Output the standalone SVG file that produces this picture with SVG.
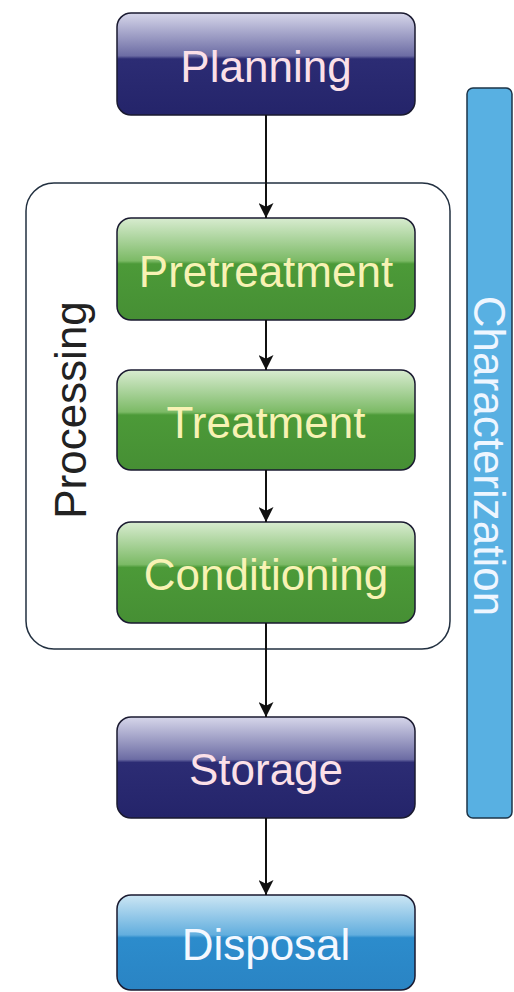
<svg xmlns="http://www.w3.org/2000/svg" width="514" height="992" viewBox="0 0 514 992">
<defs>
<linearGradient id="gNavy" x1="0" y1="0" x2="0" y2="1">
<stop offset="0" stop-color="#d6d6ea"/>
<stop offset="0.42" stop-color="#6c6ca4"/>
<stop offset="0.45" stop-color="#2c2c74"/>
<stop offset="1" stop-color="#24246a"/>
</linearGradient>
<linearGradient id="gGreen" x1="0" y1="0" x2="0" y2="1">
<stop offset="0" stop-color="#d8ecd0"/>
<stop offset="0.42" stop-color="#7cba66"/>
<stop offset="0.45" stop-color="#4c9a38"/>
<stop offset="1" stop-color="#468f34"/>
</linearGradient>
<linearGradient id="gBlue" x1="0" y1="0" x2="0" y2="1">
<stop offset="0" stop-color="#cce6f4"/>
<stop offset="0.42" stop-color="#62aede"/>
<stop offset="0.45" stop-color="#2c8ccc"/>
<stop offset="1" stop-color="#2a84c4"/>
</linearGradient>
<marker id="arrow" viewBox="0 0 16 16" refX="16" refY="8" markerWidth="15" markerHeight="15" markerUnits="userSpaceOnUse" orient="auto">
<path d="M0,0 L16,8 L0,16 L4,8 z" fill="#111"/>
</marker>
</defs>
<style>
.box{stroke:#1a1a30;stroke-width:1.5}
.lbl{font-family:"Liberation Sans",Arial,sans-serif;font-size:44px;text-anchor:middle;dominant-baseline:central}
.navyT{fill:#fbe0e8}
.greenT{fill:#f8f2b4}
.blueT{fill:#f4f8ff}
.conn{stroke:#111;stroke-width:2;fill:none;marker-end:url(#arrow)}
</style>
<rect width="514" height="992" fill="#ffffff"/>

<g id="characterization">
<rect x="467" y="88" width="45" height="730" rx="6" fill="#58b0e2" stroke="#1c3448" stroke-width="1.5"/>
<text class="lbl" x="489" y="456" transform="rotate(90 489 456)" fill="#eef6ff">Characterization</text>
</g>

<g id="processing">
<rect x="26" y="183" width="424" height="466" rx="28" fill="none" stroke="#223040" stroke-width="1.5"/>
<text class="lbl" x="70" y="410" transform="rotate(-90 70 410)" fill="#222">Processing</text>
</g>

<g id="planning">
<rect class="box" x="117" y="13" width="298" height="102" rx="14" fill="url(#gNavy)"/>
<text class="lbl navyT" x="266" y="66">Planning</text>
</g>

<g id="pretreatment">
<rect class="box" x="117" y="218" width="298" height="102" rx="14" fill="url(#gGreen)"/>
<text class="lbl greenT" x="266" y="271">Pretreatment</text>
</g>

<g id="treatment">
<rect class="box" x="117" y="370" width="298" height="100" rx="14" fill="url(#gGreen)"/>
<text class="lbl greenT" x="266" y="422">Treatment</text>
</g>

<g id="conditioning">
<rect class="box" x="117" y="522" width="298" height="101" rx="14" fill="url(#gGreen)"/>
<text class="lbl greenT" x="266" y="574">Conditioning</text>
</g>

<g id="storage">
<rect class="box" x="117" y="717" width="298" height="101" rx="14" fill="url(#gNavy)"/>
<text class="lbl navyT" x="266" y="769">Storage</text>
</g>

<g id="disposal">
<rect class="box" x="117" y="895" width="298" height="95" rx="14" fill="url(#gBlue)"/>
<text class="lbl blueT" x="266" y="944">Disposal</text>
</g>

<g id="connectors">
<line class="conn" x1="266" y1="115" x2="266" y2="218"/>
<line class="conn" x1="266" y1="320" x2="266" y2="370"/>
<line class="conn" x1="266" y1="470" x2="266" y2="522"/>
<line class="conn" x1="266" y1="623" x2="266" y2="717"/>
<line class="conn" x1="266" y1="818" x2="266" y2="895"/>
</g>
</svg>
